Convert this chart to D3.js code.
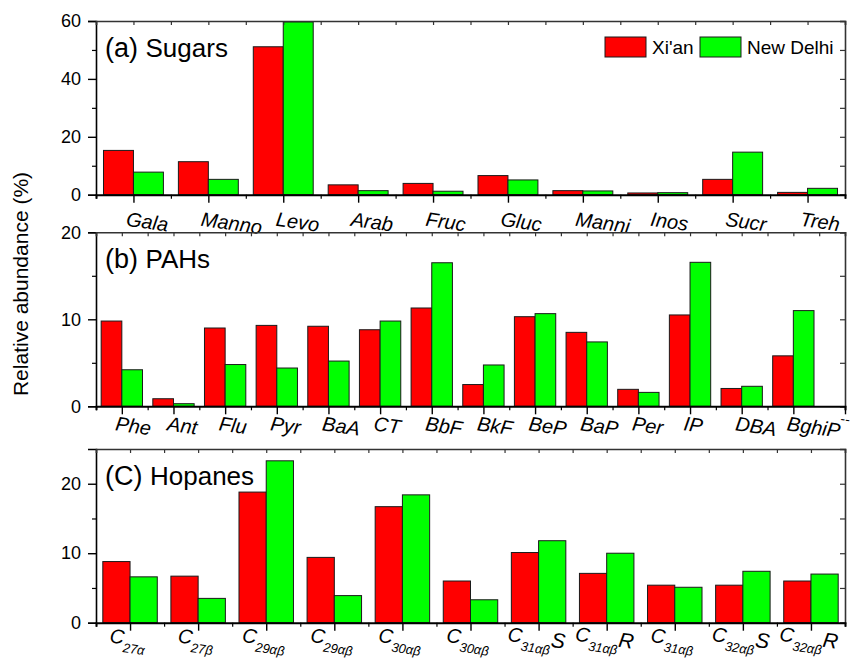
<!DOCTYPE html>
<html>
<head>
<meta charset="utf-8">
<script src="https://cdn.jsdelivr.net/npm/d3@7/dist/d3.min.js"></script>
<style>
  body { margin: 0; background: #fff; }
  svg { display: block; }
  text { font-family: "Liberation Sans", Arial, Helvetica, sans-serif; fill: #000; }
</style>
</head>
<body>
<svg id="chart" width="850" height="658"></svg>
<script>
// ---- data ----
const seriesNames = ["Xi'an", "New Delhi"];

const sugarCategories = ["Gala", "Manno", "Levo", "Arab", "Fruc", "Gluc", "Manni", "Inos", "Sucr", "Treh"];
const sugarXian  = [15.3, 11.4, 51.1, 3.4, 3.9, 6.6, 1.4, 0.6, 5.3, 0.8];
const sugarDelhi = [7.8, 5.3, 59.7, 1.4, 1.2, 5.1, 1.3, 0.7, 14.7, 2.2];
const sugarTicks = [0, 20, 40, 60];
const sugarMinorTicks = [10, 30, 50];

const pahCategories = ["Phe", "Ant", "Flu", "Pyr", "BaA", "CT", "BbF", "BkF", "BeP", "BaP", "Per", "IP", "DBA", "BghiP"];
const pahTrailingLabel = "--";
const pahXian  = [9.8, 0.87, 9.0, 9.3, 9.2, 8.8, 11.3, 2.5, 10.3, 8.5, 1.95, 10.5, 2.05, 5.8];
const pahDelhi = [4.2, 0.3, 4.8, 4.4, 5.2, 9.8, 16.5, 4.75, 10.65, 7.4, 1.6, 16.55, 2.3, 11.0];
const pahTicks = [0, 10, 20];
const pahMinorTicks = [5, 15];

const hopaneCarbons  = ["27", "27", "29", "29", "30", "30", "31", "31", "31", "32", "32"];
const hopaneSubs     = ["α", "β", "αβ", "αβ", "αβ", "αβ", "αβ", "αβ", "αβ", "αβ", "αβ"];
const hopaneSuffixes = ["", "", "", "", "", "", "S", "R", "", "S", "R"];
const hopaneXian  = [8.8, 6.7, 18.8, 9.4, 16.7, 6.0, 10.1, 7.1, 5.4, 5.4, 6.0];
const hopaneDelhi = [6.6, 3.5, 23.3, 3.9, 18.4, 3.3, 11.8, 10.0, 5.1, 7.4, 7.0];
const hopaneTicks = [0, 10, 20];
const hopaneMinorTicks = [5, 15];

// ---- layout ----
const colors = ["#ff0000", "#00ff00"];
const plotLeft = 96, plotRight = 845;
const svg = d3.select("#chart");

const panels = [
  { title: "(a)", name: "Sugars", cats: sugarCategories, a: sugarXian, b: sugarDelhi,
    ymax: 60, ticks: sugarTicks, minor: sugarMinorTicks, top: 21, bottom: 194.7,
    extraSlot: 0, labelKind: "plain", labelDx: -8, labelDy: 31 },
  { title: "(b)", name: "PAHs", cats: pahCategories, a: pahXian, b: pahDelhi,
    ymax: 20, ticks: pahTicks, minor: pahMinorTicks, top: 232.3, bottom: 406.3,
    extraSlot: 0.5, labelKind: "plain", labelDx: -7, labelDy: 24 },
  { title: "(C)", name: "Hopanes", cats: hopaneCarbons, a: hopaneXian, b: hopaneDelhi,
    ymax: 25, ticks: hopaneTicks, minor: hopaneMinorTicks, top: 449, bottom: 622.7,
    extraSlot: 0, labelKind: "hopane", labelDx: -3, labelDy: 22 }
];

panels.forEach(p => {
  const n = p.cats.length;
  const lastPos = p.extraSlot > 0 ? n : n - 0.5;   // PAH axis runs to the centre of one more slot
  const x = d3.scaleLinear().domain([-0.5, lastPos]).range([plotLeft, plotRight]);
  const y = d3.scaleLinear().domain([0, p.ymax]).range([p.bottom, p.top]);
  const step = x(1) - x(0);
  const bw = step * 0.4;
  const g = svg.append("g");

  // bars
  const groups = g.append("g").selectAll("g").data(d3.range(n)).join("g");
  [p.a, p.b].forEach((vals, s) => {
    groups.append("rect")
      .attr("x", i => s === 0 ? x(i) - bw : x(i))
      .attr("y", i => y(vals[i]))
      .attr("width", bw)
      .attr("height", i => y(0) - y(vals[i]))
      .attr("fill", colors[s])
      .attr("stroke", "#1a1a1a")
      .attr("stroke-width", 1);
  });

  // category positions (major) and slot boundaries (minor)
  const majorPos = d3.range(p.extraSlot > 0 ? n + 1 : n);
  const minorPos = d3.range(n).map(i => i - 0.5).concat(p.extraSlot > 0 ? [] : [n - 0.5]);
  const halfPos = d3.range(-0.5, lastPos + 0.001, 0.5);

  // left axis
  g.append("g").attr("transform", `translate(${plotLeft},0)`)
    .call(d3.axisLeft(y).tickValues(p.ticks).tickSize(8).tickPadding(7).tickFormat(d3.format("d")))
    .call(a => a.select(".domain").attr("stroke-width", 1.6))
    .call(a => a.selectAll("line").attr("stroke-width", 1.4))
    .call(a => a.selectAll("text").attr("font-size", 18).attr("font-family", "Liberation Sans, Arial, sans-serif"));
  g.append("g").attr("transform", `translate(${plotLeft},0)`)
    .call(d3.axisLeft(y).tickValues(p.minor).tickSize(4).tickFormat(""))
    .call(a => a.select(".domain").remove())
    .call(a => a.selectAll("line").attr("stroke-width", 1.2));

  // right axis, inward ticks
  g.append("g").attr("transform", `translate(${plotRight},0)`)
    .call(d3.axisRight(y).tickValues(p.ticks.concat(p.minor)).tickSize(-5).tickFormat(""))
    .call(a => a.select(".domain").attr("stroke", "#333").attr("stroke-width", 1.6))
    .call(a => a.selectAll("line").attr("stroke", "#333").attr("stroke-width", 1.2));

  // top axis, inward ticks
  g.append("g").attr("transform", `translate(0,${p.top})`)
    .call(d3.axisTop(x).tickValues(halfPos).tickSize(-4).tickFormat(""))
    .call(a => a.select(".domain").attr("stroke", "#333").attr("stroke-width", 1.6))
    .call(a => a.selectAll("line").attr("stroke", "#333").attr("stroke-width", 1.2));

  // bottom axis
  g.append("g").attr("transform", `translate(0,${p.bottom})`)
    .call(d3.axisBottom(x).tickValues(minorPos).tickSize(4).tickFormat(""))
    .call(a => a.select(".domain").attr("stroke-width", 2))
    .call(a => a.selectAll("line").attr("stroke-width", 1.2));
  g.append("g").attr("transform", `translate(0,${p.bottom})`)
    .call(d3.axisBottom(x).tickValues(majorPos).tickSize(8).tickFormat(""))
    .call(a => a.select(".domain").remove())
    .call(a => a.selectAll("line").attr("stroke-width", 1.4));

  // category labels, italic and tilted
  const labelY = p.bottom + p.labelDy;
  if (p.labelKind === "plain") {
    p.cats.forEach((t, i) => {
      const lx = x(i) + p.labelDx;
      g.append("text")
        .attr("transform", `translate(${lx},${labelY}) rotate(8)`)
        .attr("font-size", 20).attr("font-style", "italic")
        .attr("text-anchor", "start")
        .text(t);
    });
    if (p.extraSlot > 0) {
      // label of the trailing slot, squeezed against the right edge
      g.append("text")
        .attr("transform", `translate(${x(n) + 4},${labelY - 6}) rotate(8)`)
        .attr("font-size", 14).attr("font-style", "italic")
        .attr("text-anchor", "end")
        .text(pahTrailingLabel);
    }
  } else {
    p.cats.forEach((c, i) => {
      const lx = x(i) + p.labelDx;
      const t = g.append("text")
        .attr("transform", `translate(${lx},${labelY}) rotate(8)`)
        .attr("font-style", "italic")
        .attr("text-anchor", "middle");
      t.append("tspan").attr("font-size", 20).text("C");
      t.append("tspan").attr("font-size", 13).attr("dy", 8).text(c + hopaneSubs[i]);
      if (hopaneSuffixes[i]) t.append("tspan").attr("font-size", 21).attr("dy", -8).text(hopaneSuffixes[i]);
    });
  }

  // panel title
  const title = g.append("text").attr("x", plotLeft + 9).attr("y", p.top + 36);
  title.append("tspan").attr("font-size", 27).text(p.title + " ");
  title.append("tspan").attr("font-size", 26).text(p.name);
});

// legend inside the sugars panel
const legend = svg.append("g");
const legendX = [605, 700];
seriesNames.forEach((name, s) => {
  legend.append("rect")
    .attr("x", legendX[s]).attr("y", 37)
    .attr("width", 41).attr("height", 20)
    .attr("fill", colors[s]).attr("stroke", "#1a1a1a").attr("stroke-width", 1);
  legend.append("text")
    .attr("x", legendX[s] + 47).attr("y", 53.5)
    .attr("font-size", 19)
    .text(name);
});

// shared y-axis title
svg.append("text")
  .attr("transform", "translate(28,284) rotate(-90)")
  .attr("text-anchor", "middle")
  .attr("font-size", 21)
  .text("Relative abundance (%)");
</script>
</body>
</html>
